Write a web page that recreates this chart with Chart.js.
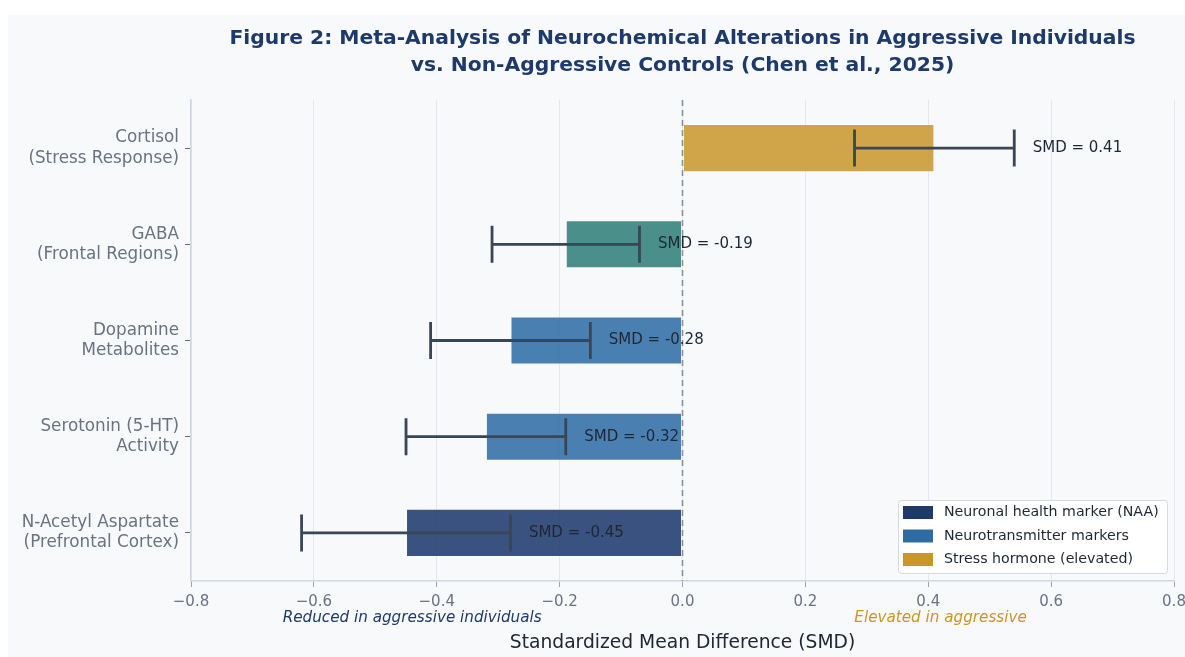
<!DOCTYPE html>
<html>
<head>
<meta charset="utf-8">
<script src="https://cdn.jsdelivr.net/npm/chart.js@4/dist/chart.umd.min.js"></script>
<style>
  html, body { margin: 0; padding: 0; background: #ffffff; }
  canvas { display: block; }
</style>
</head>
<body>
<canvas id="smdChart" width="1185" height="657"></canvas>
<script>
// Markers, top to bottom
const categories = [
  ['Cortisol', '(Stress Response)'],
  ['GABA', '(Frontal Regions)'],
  ['Dopamine', 'Metabolites'],
  ['Serotonin (5-HT)', 'Activity'],
  ['N-Acetyl Aspartate', '(Prefrontal Cortex)']
];
// Standardized mean differences and 95% confidence bounds
const smdValues = [0.41, -0.19, -0.28, -0.32, -0.45];
const ciLower   = [0.28, -0.31, -0.41, -0.45, -0.62];
const ciUpper   = [0.54, -0.07, -0.15, -0.19, -0.28];
const smdLabels = ['SMD = 0.41', 'SMD = -0.19', 'SMD = -0.28', 'SMD = -0.32', 'SMD = -0.45'];

// Bar fills per marker
const barColors = [
  'rgba(201,150,42,0.85)',
  'rgba(44,125,118,0.85)',
  'rgba(43,107,163,0.85)',
  'rgba(43,107,163,0.85)',
  'rgba(25,53,104,0.85)'
];

// Legend entries
const legendLabels = ['Neuronal health marker (NAA)', 'Neurotransmitter markers', 'Stress hormone (elevated)'];
const legendColors = ['#1e3a6b', '#2e6da4', '#c9962a'];

// Axis range
const xMin = -0.8, xMax = 0.8, xStep = 0.2;

const titleLines = [
  'Figure 2: Meta-Analysis of Neurochemical Alterations in Aggressive Individuals',
  'vs. Non-Aggressive Controls (Chen et al., 2025)'
];
const axisTitle = 'Standardized Mean Difference (SMD)';
const noteLeft = { text: 'Reduced in aggressive individuals', x: -0.44, color: '#1e3a6b' };
const noteRight = { text: 'Elevated in aggressive', x: 0.42, color: '#c9962a' };

const FONT = "'DejaVu Sans', 'Noto Sans', sans-serif";
Chart.defaults.font.family = FONT;

const panelBackground = {
  id: 'panelBackground',
  beforeDraw(chart) {
    const ctx = chart.ctx;
    ctx.save();
    ctx.fillStyle = '#ffffff';
    ctx.fillRect(0, 0, chart.width, chart.height);
    ctx.fillStyle = '#f7f9fb';
    ctx.fillRect(8, 15, chart.width - 8, chart.height - 15);
    ctx.restore();
  }
};

const forestOverlay = {
  id: 'forestOverlay',
  afterDatasetsDraw(chart) {
    const ctx = chart.ctx;
    const xs = chart.scales.x, ys = chart.scales.y;
    const area = chart.chartArea;
    ctx.save();
    // zero reference line
    const x0 = xs.getPixelForValue(0);
    ctx.strokeStyle = '#8a9099';
    ctx.lineWidth = 1.6;
    ctx.setLineDash([6, 4]);
    ctx.beginPath();
    ctx.moveTo(x0, area.top);
    ctx.lineTo(x0, area.bottom);
    ctx.stroke();
    ctx.setLineDash([]);

    // confidence intervals
    ctx.strokeStyle = '#3a4556';
    ctx.lineWidth = 2.8;
    ctx.lineCap = 'butt';
    const cap = 18.5;
    categories.forEach((c, i) => {
      const y = ys.getPixelForValue(i);
      const xl = xs.getPixelForValue(ciLower[i]);
      const xr = xs.getPixelForValue(ciUpper[i]);
      ctx.beginPath();
      ctx.moveTo(xl, y); ctx.lineTo(xr, y);
      ctx.moveTo(xl, y - cap); ctx.lineTo(xl, y + cap);
      ctx.moveTo(xr, y - cap); ctx.lineTo(xr, y + cap);
      ctx.stroke();
    });

    // value labels
    ctx.fillStyle = '#1f2633';
    ctx.font = '15px ' + FONT;
    ctx.textAlign = 'left';
    ctx.textBaseline = 'middle';
    categories.forEach((c, i) => {
      const y = ys.getPixelForValue(i);
      ctx.fillText(smdLabels[i], xs.getPixelForValue(ciUpper[i] + 0.03), y);
    });
    ctx.restore();
  },
  afterDraw(chart) {
    const ctx = chart.ctx;
    const xs = chart.scales.x;
    const area = chart.chartArea;
    const cx = (area.left + area.right) / 2;
    ctx.save();

    // title
    ctx.fillStyle = '#1e3a6b';
    ctx.font = 'bold 20.3px ' + FONT;
    ctx.textAlign = 'center';
    ctx.textBaseline = 'middle';
    ctx.fillText(titleLines[0], cx, 39);
    ctx.fillText(titleLines[1], cx, 66);

    // direction notes
    ctx.font = 'italic 15.2px ' + FONT;
    ctx.fillStyle = noteLeft.color;
    ctx.fillText(noteLeft.text, xs.getPixelForValue(noteLeft.x), 618);
    ctx.fillStyle = noteRight.color;
    ctx.fillText(noteRight.text, xs.getPixelForValue(noteRight.x), 618);

    // axis title
    ctx.font = '18.7px ' + FONT;
    ctx.fillStyle = '#222831';
    ctx.fillText(axisTitle, cx, 643);

    // legend
    const bx = 898, by = 500, bw = 269, bh = 73;
    ctx.fillStyle = 'rgba(255,255,255,0.92)';
    ctx.strokeStyle = '#d5dae2';
    ctx.lineWidth = 1;
    ctx.beginPath();
    ctx.roundRect(bx + 0.5, by + 0.5, bw, bh, 3);
    ctx.fill();
    ctx.stroke();
    ctx.font = '14.2px ' + FONT;
    ctx.textAlign = 'left';
    legendLabels.forEach((lab, i) => {
      const ry = by + 12.5 + i * 23.5;
      ctx.fillStyle = legendColors[i];
      ctx.fillRect(bx + 5, ry - 6.5, 30, 13);
      ctx.fillStyle = '#1f2633';
      ctx.fillText(lab, bx + 46, ry);
    });
    ctx.restore();
  }
};

new Chart(document.getElementById('smdChart'), {
  type: 'bar',
  data: {
    labels: categories,
    datasets: [{
      data: smdValues,
      backgroundColor: barColors,
      borderColor: 'rgba(255,255,255,0.55)',
      borderWidth: 1,
      borderSkipped: false,
      barPercentage: 0.5,
      categoryPercentage: 1.0
    }]
  },
  options: {
    indexAxis: 'y',
    responsive: false,
    animation: false,
    devicePixelRatio: 1,
    layout: { padding: { top: 100, right: 0, bottom: 0, left: 0 } },
    plugins: {
      legend: { display: false },
      title: { display: false },
      tooltip: { enabled: false }
    },
    scales: {
      x: {
        type: 'linear',
        min: xMin,
        max: xMax,
        afterFit(scale) {
          scale.height = 76;
          scale.paddingRight = 11;
          scale.paddingLeft = 0;
        },
        ticks: {
          stepSize: xStep,
          color: '#6b7280',
          font: { size: 15 },
          padding: 6,
          maxRotation: 0,
          callback: v => (v < -1e-9 ? '\u2212' : '') + Math.abs(v).toFixed(1)
        },
        grid: {
          color: '#e4e8ee',
          lineWidth: 1,
          tickLength: 6,
          tickColor: '#9aa2ae'
        },
        border: { color: '#cfd6e2', width: 1.5 }
      },
      y: {
        type: 'category',
        afterFit(scale) {
          scale.width = 191;
          scale.paddingTop = 0;
          scale.paddingBottom = 0;
        },
        ticks: {
          color: '#6b7280',
          font: { size: 16.8, lineHeight: 1.2 },
          padding: 6,
          autoSkip: false,
          maxRotation: 0
        },
        grid: {
          offset: false,
          drawOnChartArea: false,
          tickLength: 6,
          tickColor: '#6b7280'
        },
        border: { color: '#cfd6e2', width: 1.5 }
      }
    }
  },
  plugins: [panelBackground, forestOverlay]
});
</script>
</body>
</html>
